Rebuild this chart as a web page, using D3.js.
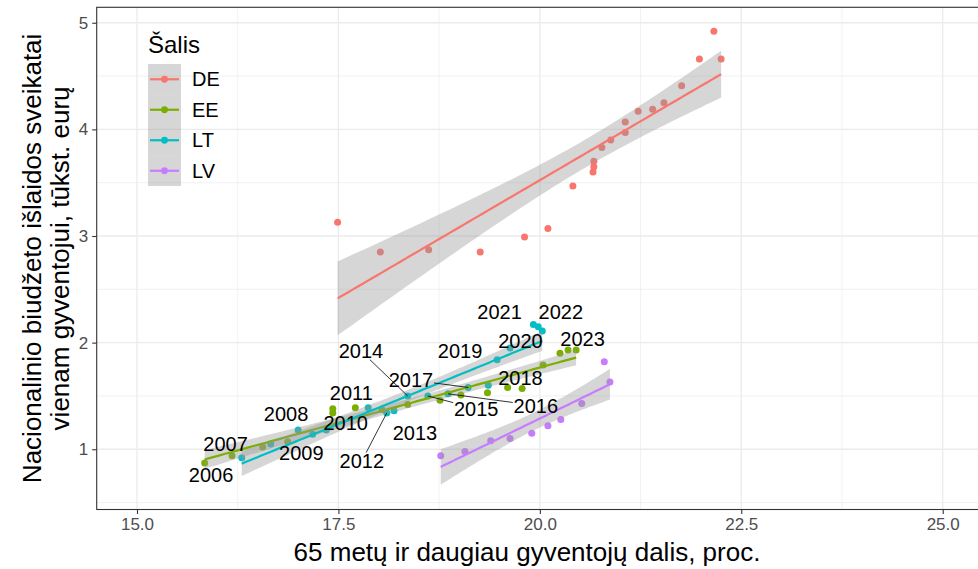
<!DOCTYPE html>
<html>
<head>
<meta charset="utf-8">
<script src="https://cdn.jsdelivr.net/npm/d3@7"></script>
<style>
  body { margin: 0; background: #fff; }
  text { font-family: "Liberation Sans", Arial, sans-serif; }
</style>
</head>
<body>
<div id="chart"></div>
<script>
// --- data ---
const countries = ["DE", "EE", "LT", "LV"];
const colors = ["#F8766D", "#7CAE00", "#00BFC4", "#C77CFF"];

// share of population aged 65+ (%) and health spending per capita (thousand EUR)
const deShare = [17.49, 18.02, 18.62, 19.26, 19.81, 20.10, 20.41, 20.66, 20.67, 20.67, 20.77,
                 20.88, 21.06, 21.06, 21.22, 21.40, 21.54, 21.76, 21.98, 22.16, 22.25];
const deSpend = [3.13, 2.85, 2.87, 2.85, 2.99, 3.07, 3.47, 3.60, 3.65, 3.70, 3.83,
                 3.90, 3.97, 4.07, 4.17, 4.19, 4.25, 4.41, 4.66, 4.92, 4.66];

const eeShare = [15.84, 16.18, 16.56, 16.87, 17.43, 17.43, 17.71, 18.04, 18.36, 18.76,
                 19.02, 19.35, 19.60, 19.78, 20.04, 20.25, 20.35, 20.45];
const eeSpend = [0.87, 0.94, 1.02, 1.07, 1.34, 1.38, 1.39, 1.37, 1.42, 1.46,
                 1.51, 1.53, 1.58, 1.57, 1.79, 1.90, 1.93, 1.93];

const ltYears = [2006, 2007, 2008, 2009, 2010, 2011, 2012, 2013, 2014,
                 2015, 2016, 2017, 2018, 2019, 2020, 2021, 2022, 2023];
const ltShare = [16.30, 16.66, 17.00, 17.18, 17.35, 17.87, 18.10, 18.19, 18.36,
                 18.61, 18.86, 19.11, 19.36, 19.47, 19.63, 19.92, 19.98, 20.03];
const ltSpend = [0.92, 1.05, 1.18, 1.14, 1.18, 1.39, 1.34, 1.36, 1.50,
                 1.50, 1.52, 1.58, 1.60, 1.84, 1.95, 2.17, 2.15, 2.11];

const lvShare = [18.77, 19.07, 19.39, 19.63, 19.90, 20.10, 20.26, 20.52, 20.80, 20.87];
const lvSpend = [0.94, 0.98, 1.08, 1.10, 1.15, 1.22, 1.28, 1.43, 1.82, 1.63];

const xTicks = [15, 17.5, 20, 22.5, 25];
const yTicks = [1, 2, 3, 4, 5];

// where the repelled year labels ended up (data units) and which got a leader line
const labelX = [15.92, 16.10, 16.85, 17.04, 17.59, 17.66, 17.79, 18.45, 17.78,
                19.21, 19.95, 18.40, 19.76, 19.01, 19.76, 19.50, 20.26, 20.53];
const labelY = [0.76, 1.05, 1.33, 0.965, 1.25, 1.53, 0.89, 1.15, 1.92,
                1.38, 1.41, 1.65, 1.67, 1.92, 2.02, 2.29, 2.29, 2.03];
const segYears = [2012, 2014, 2015, 2016, 2017];

const groups = [
  { name: "DE", xs: deShare, ys: deSpend },
  { name: "EE", xs: eeShare, ys: eeSpend },
  { name: "LT", xs: ltShare, ys: ltSpend },
  { name: "LV", xs: lvShare, ys: lvSpend }
];

// --- setup ---
const width = 978, height = 569;
const svg = d3.select("#chart").append("svg")
    .attr("width", width)
    .attr("height", height);

const x = d3.scaleLinear().domain([14.5, 25.5]).range([96.7, 983]);
const y = d3.scaleLinear().domain([0.435, 5.145]).range([509.5, 7.3]);
const color = d3.scaleOrdinal().domain(countries).range(colors);

const panel = { left: 96.7, right: 983, top: 7.3, bottom: 509.5 };

// grid: minor lines first, then major
const gridMinorX = [16.25, 18.75, 21.25, 23.75];
const gridMinorY = [0.5, 1.5, 2.5, 3.5, 4.5];
const grid = svg.append("g").attr("stroke", "#EBEBEB");
grid.selectAll(".mx").data(gridMinorX).join("line")
    .attr("x1", d => x(d)).attr("x2", d => x(d))
    .attr("y1", panel.top).attr("y2", panel.bottom)
    .attr("stroke-width", 0.7);
grid.selectAll(".my").data(gridMinorY).join("line")
    .attr("x1", panel.left).attr("x2", panel.right)
    .attr("y1", d => y(d)).attr("y2", d => y(d))
    .attr("stroke-width", 0.7);
grid.selectAll(".Mx").data(xTicks).join("line")
    .attr("x1", d => x(d)).attr("x2", d => x(d))
    .attr("y1", panel.top).attr("y2", panel.bottom)
    .attr("stroke-width", 1.3);
grid.selectAll(".My").data(yTicks).join("line")
    .attr("x1", panel.left).attr("x2", panel.right)
    .attr("y1", d => y(d)).attr("y2", d => y(d))
    .attr("stroke-width", 1.3);

// linear fit with 95% band, like geom_smooth(method = "lm")
function tQuantile(df) {
    const z = 1.959964;
    return z + (z ** 3 + z) / (4 * df)
        + (5 * z ** 5 + 16 * z ** 3 + 3 * z) / (96 * df ** 2)
        + (3 * z ** 7 + 19 * z ** 5 + 17 * z ** 3 - 15 * z) / (384 * df ** 3);
}
function lmBand(xs, ys) {
    const n = xs.length;
    const mx = d3.mean(xs), my = d3.mean(ys);
    let sxx = 0, sxy = 0;
    xs.forEach((v, i) => { sxx += (v - mx) ** 2; sxy += (v - mx) * (ys[i] - my); });
    const b = sxy / sxx, a = my - b * mx;
    let rss = 0;
    xs.forEach((v, i) => { rss += (ys[i] - a - b * v) ** 2; });
    const s = Math.sqrt(rss / (n - 2));
    const t = tQuantile(n - 2);
    const [lo, hi] = d3.extent(xs);
    const out = [];
    for (let k = 0; k < 80; k++) {
        const xv = lo + (hi - lo) * k / 79;
        const fit = a + b * xv;
        const se = s * Math.sqrt(1 / n + (xv - mx) ** 2 / sxx);
        out.push({ x: xv, fit: fit, lo: fit - t * se, hi: fit + t * se });
    }
    return out;
}

// points
const pts = svg.append("g");
groups.forEach(g => {
    pts.selectAll(null).data(g.xs.map((v, i) => ({ x: v, y: g.ys[i] }))).join("circle")
        .attr("cx", d => x(d.x))
        .attr("cy", d => y(d.y))
        .attr("r", 3.5)
        .attr("fill", color(g.name));
});

// smooths
const smooth = svg.append("g");
groups.forEach(g => {
    const band = lmBand(g.xs, g.ys);
    smooth.append("path")
        .attr("d", d3.area().x(d => x(d.x)).y0(d => y(d.lo)).y1(d => y(d.hi))(band))
        .attr("fill", "#999999")
        .attr("fill-opacity", 0.4);
    smooth.append("path")
        .attr("d", d3.line().x(d => x(d.x)).y(d => y(d.fit))(band))
        .attr("fill", "none")
        .attr("stroke", color(g.name))
        .attr("stroke-width", 2.2);
});

// year labels for LT
const labs = svg.append("g");
const boxW = 46, boxH = 17;
ltYears.forEach((yr, i) => {
    const lx = x(labelX[i]), ly = y(labelY[i]);
    if (segYears.includes(yr)) {
        const px = x(ltShare[i]), py = y(ltSpend[i]);
        const dx = px - lx, dy = py - ly;
        const k = Math.min((boxW / 2) / Math.abs(dx || 1e-6), (boxH / 2) / Math.abs(dy || 1e-6));
        labs.append("line")
            .attr("x1", lx + dx * k).attr("y1", ly + dy * k)
            .attr("x2", px).attr("y2", py)
            .attr("stroke", "#000")
            .attr("stroke-width", 0.8);
    }
    labs.append("text")
        .attr("x", lx).attr("y", ly)
        .attr("text-anchor", "middle")
        .attr("dominant-baseline", "central")
        .attr("font-size", 20)
        .attr("fill", "#000")
        .text(yr);
});

// panel border
svg.append("rect")
    .attr("x", panel.left).attr("y", panel.top)
    .attr("width", panel.right - panel.left)
    .attr("height", panel.bottom - panel.top)
    .attr("fill", "none")
    .attr("stroke", "#333333")
    .attr("stroke-width", 1.1);

// axes
const xAxis = svg.append("g")
    .attr("transform", `translate(0,${panel.bottom})`)
    .call(d3.axisBottom(x).tickValues(xTicks).tickFormat(d3.format(".1f")).tickSize(4.5).tickPadding(4));
const yAxis = svg.append("g")
    .attr("transform", `translate(${panel.left},0)`)
    .call(d3.axisLeft(y).tickValues(yTicks).tickFormat(d3.format("d")).tickSize(4.5).tickPadding(4));
[xAxis, yAxis].forEach(a => {
    a.select(".domain").remove();
    a.selectAll(".tick line").attr("stroke", "#333333").attr("stroke-width", 1.1);
    a.selectAll(".tick text").attr("fill", "#4D4D4D").attr("font-size", 17)
        .style("font-family", "'Liberation Sans', Arial, sans-serif");
});

// axis titles
svg.append("text")
    .attr("x", 527).attr("y", 561)
    .attr("text-anchor", "middle")
    .attr("font-size", 26)
    .text("65 metų ir daugiau gyventojų dalis, proc.");
const yTitle = svg.append("text")
    .attr("transform", `translate(0,${(panel.top + panel.bottom) / 2}) rotate(-90)`)
    .attr("text-anchor", "middle")
    .attr("font-size", 26);
yTitle.append("tspan").attr("x", 0).attr("y", 41).text("Nacionalinio biudžeto išlaidos sveikatai");
yTitle.append("tspan").attr("x", 0).attr("y", 69).text("vienam gyventojui, tūkst. eurų");

// legend
const legend = svg.append("g");
legend.append("text")
    .attr("x", 148).attr("y", 53)
    .attr("font-size", 24)
    .text("Šalis");
const keyTop = 64, keyH = 30.5, keyL = 148, keyW = 33;
countries.forEach((c, i) => {
    const cy = keyTop + keyH * i + keyH / 2;
    legend.append("rect")
        .attr("x", keyL).attr("y", keyTop + keyH * i)
        .attr("width", keyW).attr("height", keyH)
        .attr("fill", "#999999").attr("fill-opacity", 0.4);
    legend.append("line")
        .attr("x1", keyL + 2).attr("x2", keyL + keyW - 2)
        .attr("y1", cy).attr("y2", cy)
        .attr("stroke", color(c)).attr("stroke-width", 2.2);
    legend.append("circle")
        .attr("cx", keyL + keyW / 2).attr("cy", cy).attr("r", 3.4)
        .attr("fill", color(c));
    legend.append("text")
        .attr("x", 192).attr("y", cy)
        .attr("dominant-baseline", "central")
        .attr("font-size", 20)
        .text(c);
});
</script>
</body>
</html>
